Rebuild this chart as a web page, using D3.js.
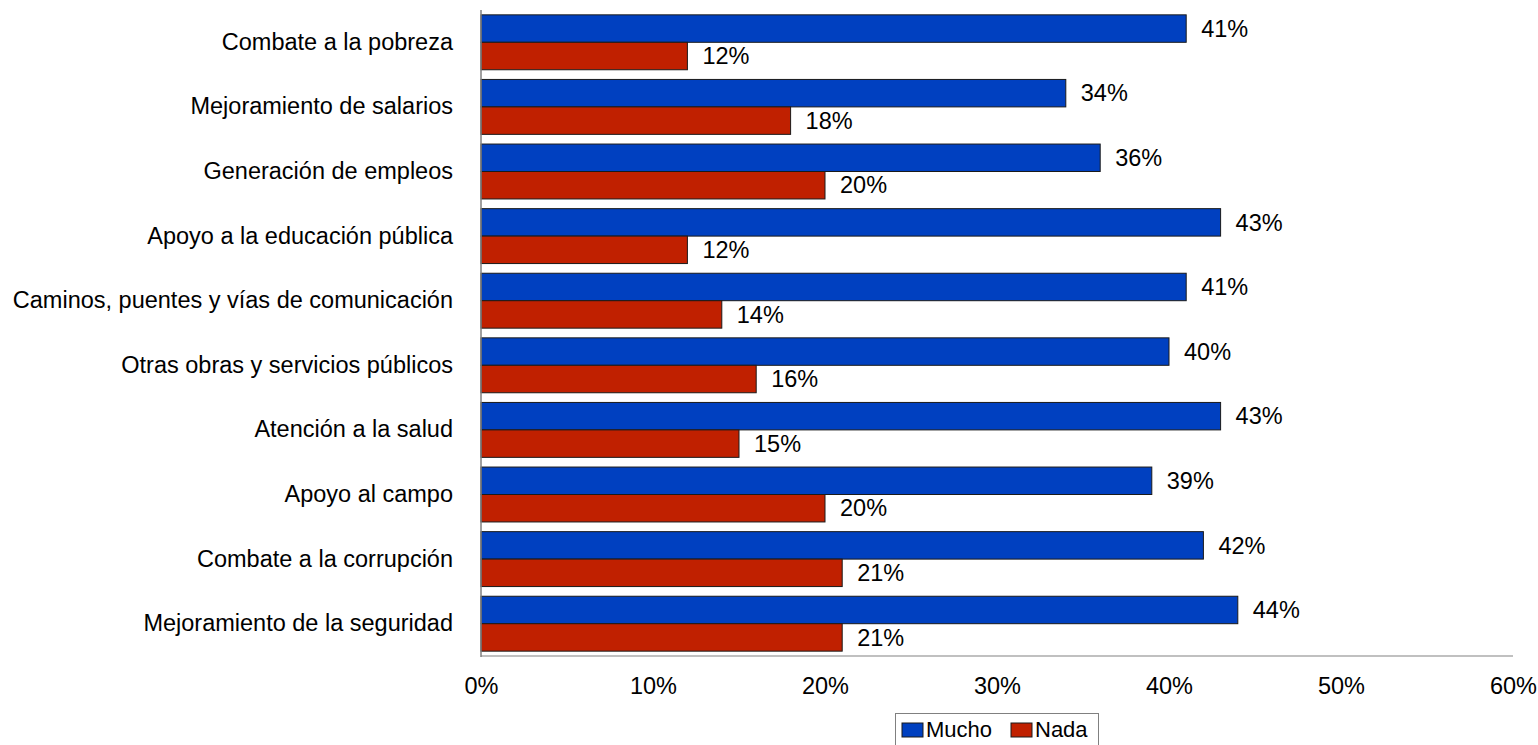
<!DOCTYPE html>
<html><head><meta charset="utf-8">
<script src="https://cdn.jsdelivr.net/npm/d3@7"></script>
<style>body{margin:0;background:#fff}svg{display:block}text{font-family:"Liberation Sans",Arial,sans-serif;fill:#000}</style>
</head><body>
<script>
const categories = ["Combate a la pobreza","Mejoramiento de salarios","Generación de empleos","Apoyo a la educación pública","Caminos, puentes y vías de comunicación","Otras obras y servicios públicos","Atención a la salud","Apoyo al campo","Combate a la corrupción","Mejoramiento de la seguridad"];
const mucho = [41,34,36,43,41,40,43,39,42,44];
const nada = [12,18,20,12,14,16,15,20,21,21];
const seriesNames = ["Mucho","Nada"];
const tickValues = [0,10,20,30,40,50,60];
const colors = ["#0040C0","#C02000"];

const FS=23.5;
const W=1538,H=745;
const svg=d3.select("body").append("svg").attr("width",W).attr("height",H);
const x=d3.scaleLinear().domain([0,60]).range([481,1513]);
const y=d3.scaleBand().domain(categories).range([10,656]).paddingInner(0.15).paddingOuter(0.075);
const sub=d3.scaleBand().domain(seriesNames).range([0,y.bandwidth()]);

const data=categories.map((c,i)=>({c,vals:[mucho[i],nada[i]]}));
const g=svg.append("g");
data.forEach(d=>{
  d.vals.forEach((v,j)=>{
    const yy=y(d.c)+sub(seriesNames[j]);
    g.append("rect").attr("x",x(0)).attr("y",yy).attr("width",x(v)-x(0)).attr("height",sub.bandwidth())
      .attr("fill",colors[j]).attr("stroke","#1a1a1a").attr("stroke-width",1);
    g.append("text").attr("x",x(v)+15).attr("y",yy+sub.bandwidth()/2).attr("dy","0.35em")
      .attr("font-size",FS).text(v+"%");
  });
});

// axes
svg.append("line").attr("x1",x(0)).attr("x2",x(60)).attr("y1",656).attr("y2",656).attr("stroke","#c0c0c0").attr("stroke-width",2);
svg.append("line").attr("x1",x(0)).attr("x2",x(0)).attr("y1",10).attr("y2",657).attr("stroke","#808080").attr("stroke-width",1.5);

const xAxis=d3.axisBottom(x).tickValues(tickValues).tickFormat(d=>d+"%").tickSize(0).tickPadding(0);
const xa=svg.append("g").attr("transform","translate(0,677)").call(xAxis);
xa.select(".domain").remove();
xa.selectAll("text").attr("font-size",FS).attr("font-family","Liberation Sans, Arial, sans-serif").attr("fill","#000");

const yAxis=d3.axisLeft(y).tickSize(0).tickPadding(28);
const ya=svg.append("g").attr("transform",`translate(${x(0)},0)`).call(yAxis);
ya.select(".domain").remove();
ya.selectAll("text").attr("font-size",FS).attr("font-family","Liberation Sans, Arial, sans-serif").attr("fill","#000");

// legend
const lg=svg.append("g");
lg.append("rect").attr("x",895.5).attr("y",713.5).attr("width",203).attr("height",40).attr("fill","#fff").attr("stroke","#808080");
const lx=[902,1011];
seriesNames.forEach((s,j)=>{
  lg.append("rect").attr("x",lx[j]).attr("y",723).attr("width",21).attr("height",14).attr("fill",colors[j]).attr("stroke","#1a1a1a");
  lg.append("text").attr("x",lx[j]+24).attr("y",737).attr("font-size",22).text(s);
});
</script>
</body></html>
